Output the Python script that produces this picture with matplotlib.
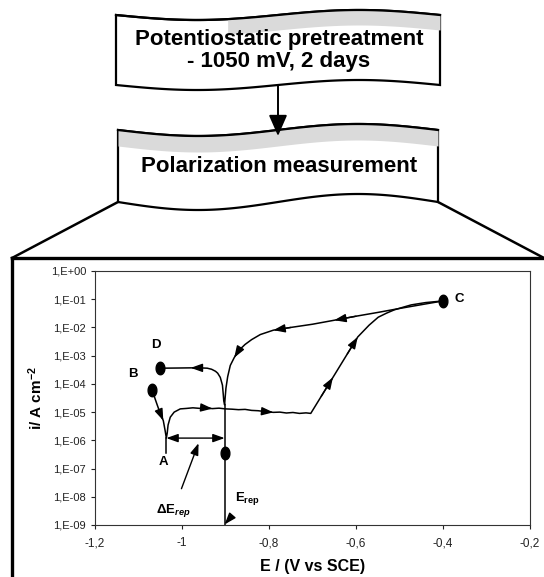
import numpy as np
import matplotlib
matplotlib.use("Agg")
import matplotlib.pyplot as plt
from matplotlib.path import Path

plt.rcParams['font.family'] = ['Liberation Sans', 'DejaVu Sans']
plt.rcParams['mathtext.fontset'] = 'custom'
plt.rcParams['mathtext.rm'] = 'Liberation Sans:bold'
plt.rcParams['mathtext.it'] = 'Liberation Sans:bold:italic'
plt.rcParams['mathtext.bf'] = 'Liberation Sans:bold'
plt.rcParams['mathtext.default'] = 'rm'

# forward scan  B -> A -> passive plateau -> C
fwd_E = [-1.068, -1.062, -1.057, -1.050, -1.043, -1.039, -1.036, -1.034, -1.032,
         -1.027, -1.018, -1.004, -0.990, -0.975, -0.960, -0.945, -0.930, -0.915,
         -0.900, -0.885, -0.870, -0.855, -0.840, -0.825, -0.810, -0.790, -0.775,
         -0.760, -0.745, -0.730, -0.715, -0.704, -0.680, -0.653, -0.620, -0.596,
         -0.570, -0.549, -0.530, -0.512, -0.490, -0.473, -0.440, -0.400]
fwd_i = [6e-5, 3e-5, 1.8e-5, 9e-6, 5e-6, 2.3e-6, 1.2e-6, 1.8e-6, 3.5e-6,
         6.6e-6, 1.0e-5, 1.3e-5, 1.35e-5, 1.42e-5, 1.36e-5, 1.4e-5, 1.33e-5, 1.38e-5,
         1.3e-5, 1.27e-5, 1.22e-5, 1.25e-5, 1.15e-5, 1.12e-5, 1.05e-5, 9.8e-6, 1.0e-5,
         9.3e-6, 9.7e-6, 9.0e-6, 9.4e-6, 9.0e-6, 3.6e-5, 1.7e-4, 1.15e-3, 4.6e-3,
         1.2e-2, 2.3e-2, 3.2e-2, 4.2e-2, 5.3e-2, 6.3e-2, 7.6e-2, 8.7e-2]

# reverse scan  C -> Erep -> D
rev_E = [-0.400, -0.450, -0.500, -0.550, -0.600, -0.650, -0.700, -0.750, -0.790,
         -0.820, -0.840, -0.855, -0.870, -0.880, -0.889, -0.895, -0.899, -0.901,
         -0.902, -0.904, -0.905, -0.907, -0.912, -0.918, -0.923, -0.932, -0.942,
         -0.960, -0.980, -1.010, -1.048]
rev_i = [8.7e-2, 6.4e-2, 4.7e-2, 3.4e-2, 2.5e-2, 1.8e-2, 1.3e-2, 1.0e-2, 8.0e-3,
         5.6e-3, 3.7e-3, 2.5e-3, 1.5e-3, 8.5e-4, 4.5e-4, 1.8e-4, 7e-5, 3e-5,
         1.8e-5, 2.5e-5, 4e-5, 9e-5, 1.7e-4, 2.4e-4, 2.8e-4, 3.3e-4, 3.6e-4,
         3.7e-4, 3.7e-4, 3.65e-4, 3.6e-4]

# labelled points
pt_names = ['B', 'D', 'C']
pt_E = [-1.068, -1.050, -0.400]
pt_i = [6e-5, 3.6e-4, 8.7e-2]

E_rep = -0.902
E_A = -1.036
i_dE = 1.2e-6
i_rep_dot = 3.5e-7

xticks = [-1.2, -1.0, -0.8, -0.6, -0.4, -0.2]
xtick_labels = ['-1,2', '-1', '-0,8', '-0,6', '-0,4', '-0,2']
yticks = [1e0, 1e-1, 1e-2, 1e-3, 1e-4, 1e-5, 1e-6, 1e-7, 1e-8, 1e-9]
ytick_labels = ['1,E+00', '1,E-01', '1,E-02', '1,E-03', '1,E-04',
                '1,E-05', '1,E-06', '1,E-07', '1,E-08', '1,E-09']

fig = plt.figure(figsize=(5.44, 5.77), dpi=100)

# ---- flow chart part, drawn in pixel coords ----
deco = fig.add_axes([0, 0, 1, 1])
deco.set_xlim(0, 544)
deco.set_ylim(577, 0)
deco.axis('off')


def banner(x0, x1, top, bot, at, ab, gx0, gdepth):
    xs = np.linspace(x0, x1, 120)
    ph = np.sin(2 * np.pi * (xs - x0) / (x1 - x0))
    yt = top + at * ph
    yb = bot + ab * ph
    deco.fill(np.r_[xs, xs[::-1]], np.r_[yt, yb[::-1]], facecolor='white',
              edgecolor='black', lw=1.6, zorder=2)
    m = xs >= gx0
    deco.fill_between(xs[m], yt[m], yt[m] + gdepth, color='#dadada', lw=0, zorder=3)
    deco.plot(xs, yt, color='black', lw=1.6, zorder=4)


banner(116, 440, 15, 85, 5, 5, 225, 15)
banner(118, 438, 130, 202, 6, 8, 118, 16)

deco.text(279, 39, 'Potentiostatic pretreatment', ha='center', va='center',
          fontsize=16, fontweight='bold', zorder=5)
deco.text(279, 61, '- 1050 mV, 2 days', ha='center', va='center',
          fontsize=16, fontweight='bold', zorder=5)
deco.text(279, 167, 'Polarization measurement', ha='center', va='center',
          fontsize=16, fontweight='bold', zorder=5)
deco.annotate('', xy=(278, 136), xytext=(278, 86),
              arrowprops=dict(arrowstyle='-|>,head_length=0.8,head_width=0.35',
                              color='black', lw=1.4, mutation_scale=16,
                              shrinkA=0, shrinkB=0), zorder=5)

deco.plot([118, 12], [202, 258], color='black', lw=1.8)
deco.plot([438, 544], [202, 258], color='black', lw=1.8)
deco.plot([12, 544], [258, 258], color='black', lw=2.4)
deco.plot([12, 12], [258, 577], color='black', lw=2.4)

# ---- polarization plot ----
ax = fig.add_axes([95 / 544, 1 - 525 / 577, 435 / 544, 254 / 577])
ax.set_yscale('log')
ax.set_xlim(-1.2, -0.2)
ax.set_ylim(1e-9, 1e0)

ax.plot(fwd_E, fwd_i, color='black', lw=1.1)
ax.plot(rev_E, rev_i, color='black', lw=1.1)
ax.plot([E_rep, E_rep], [1e-9, rev_i[18]], color='black', lw=1.1)
ax.plot([E_A, E_A], [i_rep_dot, fwd_i[6]], color='black', lw=1.1)

t = np.linspace(0, 2 * np.pi, 40)
ell = Path(np.c_[0.7 * np.cos(t), np.sin(t)])
ax.plot(pt_E, pt_i, linestyle='none', marker=ell, ms=9, color='black')
ax.plot([E_rep], [i_rep_dot], linestyle='none', marker=ell, ms=9, color='black')

head = dict(arrowstyle='-|>,head_length=0.7,head_width=0.25', color='black',
            lw=1.0, mutation_scale=10, shrinkA=0, shrinkB=0)
for k in [3, 15, 24, 32, 34]:
    ax.annotate('', xy=(fwd_E[k + 1], fwd_i[k + 1]), xytext=(fwd_E[k], fwd_i[k]),
                arrowprops=head)
for k in [4, 7, 12, 27]:
    ax.annotate('', xy=(rev_E[k + 1], rev_i[k + 1]), xytext=(rev_E[k], rev_i[k]),
                arrowprops=head)

# offsets in points from each dot
offsets = {'B': (-14, 11.5), 'D': (-3.5, 17), 'C': (12, 1.5)}
for n, e, i in zip(pt_names, pt_E, pt_i):
    ax.annotate(n, xy=(e, i), xytext=offsets[n], textcoords='offset points',
                ha='center', va='center', fontsize=9.5, fontweight='bold')
ax.annotate('A', xy=(E_A, i_rep_dot), xytext=(-2, -6.5), textcoords='offset points',
            ha='center', va='center', fontsize=9.5, fontweight='bold')

ax.annotate('', xy=(E_rep, i_dE), xytext=(E_A, i_dE),
            arrowprops=dict(arrowstyle='<|-|>,head_length=0.7,head_width=0.25',
                            color='black', lw=1.0, mutation_scale=10,
                            shrinkA=0, shrinkB=0))
ax.annotate(r'$\Delta$E$_{\mathit{rep}}$', xy=(-0.962, 7.9e-7), xytext=(-1.02, 3.3e-9),
            ha='center', va='center', fontsize=9.5, fontweight='bold',
            arrowprops=dict(arrowstyle='-|>,head_length=0.7,head_width=0.25',
                            color='black', lw=1.0, mutation_scale=10,
                            shrinkA=8, shrinkB=0))
ax.annotate(r'E$_{\mathrm{rep}}$', xy=(E_rep, 1.05e-9), xytext=(-0.85, 9e-9),
            ha='center', va='center', fontsize=9.5, fontweight='bold',
            arrowprops=dict(arrowstyle='-|>,head_length=0.7,head_width=0.25',
                            color='black', lw=1.0, mutation_scale=10,
                            shrinkA=6, shrinkB=0))

ax.set_xticks(xticks)
ax.set_xticklabels(xtick_labels)
ax.set_yticks(yticks)
ax.set_yticklabels(ytick_labels)
ax.minorticks_off()
ax.tick_params(axis='both', direction='out', length=3, width=0.8, labelsize=8,
               colors='#222222')
ax.tick_params(axis='x', pad=6, labelsize=8.5)
for s in ax.spines.values():
    s.set_linewidth(0.8)
    s.set_color('#333333')
ax.set_xlabel('E / (V vs SCE)', fontsize=11.5, fontweight='bold', labelpad=7)
ax.set_ylabel(r'i/ A cm$^{-2}$', fontsize=11, fontweight='bold', labelpad=4)

fig.savefig('out.png', dpi=100)
